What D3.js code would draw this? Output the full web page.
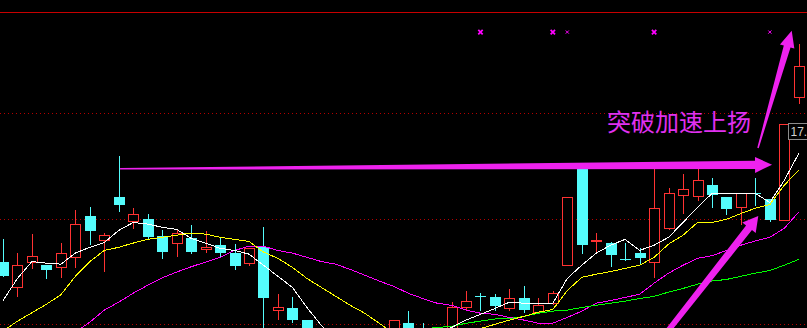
<!DOCTYPE html>
<html><head><meta charset="utf-8">
<script src="https://cdn.jsdelivr.net/npm/d3@7"></script>
<style>html,body{margin:0;padding:0;background:#000;overflow:hidden}</style>
</head><body>
<svg id="c" width="807" height="328"></svg>
<script>
// ---- data (price units) ----
const openP = [15.19,14.70,15.19,15.12,15.08,15.27,16.05,15.59,16.41,15.95,
  15.99,15.67,15.54,15.63,15.42,15.50,15.35,15.16,15.46,14.27,
  14.30,14.08,13.80,13.62,13.48,13.58,13.45,13.70,14.02,13.90,
  13.75,13.85,14.32,14.54,14.51,14.30,14.49,14.23,14.40,15.12,
  17.00,15.57,15.55,15.24,15.36,15.19,15.82,16.46,16.43,16.64,
  16.41,16.22,16.49,16.37,15.97,18.30];
const highP = [15.61,15.36,15.71,15.13,15.54,16.16,16.22,15.74,17.20,16.20,
  16.09,15.78,15.80,15.88,15.76,15.63,15.52,15.45,15.84,14.57,
  14.51,14.08,13.88,13.75,13.70,13.72,13.80,14.08,14.25,14.02,
  13.90,14.42,14.64,14.59,14.57,14.66,14.72,14.49,14.63,16.41,
  17.00,15.74,15.56,15.54,15.44,16.94,16.58,16.84,16.94,16.77,
  16.41,16.48,16.77,16.37,17.79,19.31];
const lowP = [14.91,14.51,15.04,14.87,14.87,15.06,15.52,14.99,16.14,15.80,
  15.63,15.25,15.27,15.36,15.36,15.29,15.04,15.10,13.85,14.08,
  14.05,13.70,13.55,13.40,13.35,13.30,13.38,13.60,13.65,13.60,
  13.60,13.80,14.25,14.28,14.27,14.25,14.23,14.19,14.36,15.12,
  15.35,15.35,15.10,15.21,15.14,14.87,15.78,16.09,16.33,16.22,
  16.09,15.88,16.26,15.95,15.97,18.17];
const closeP = [14.91,15.12,15.29,15.02,15.35,15.91,15.76,15.69,16.26,16.09,
  15.65,15.38,15.74,15.38,15.46,15.36,15.10,15.44,14.49,14.32,
  14.09,13.80,13.65,13.50,13.60,13.45,13.55,14.08,13.75,13.70,
  13.85,14.32,14.44,14.52,14.34,14.49,14.28,14.36,14.59,16.41,
  15.50,15.59,15.31,15.22,15.25,16.20,16.48,16.56,16.73,16.45,
  16.18,16.48,16.47,15.97,17.79,18.89];

const ma5 = [14.45,14.87,15.19,15.16,15.14,15.35,15.46,15.55,15.78,15.93,
  15.90,15.84,15.80,15.63,15.54,15.44,15.40,15.33,15.12,14.91,
  14.70,14.32,13.98,13.73,13.60,13.55,13.60,13.66,13.70,13.77,
  13.85,13.94,14.08,14.19,14.30,14.42,14.40,14.40,14.40,14.87,
  15.12,15.35,15.50,15.61,15.40,15.50,15.65,15.93,16.22,16.48,
  16.48,16.48,16.48,16.31,16.73,17.24];
const ma10 = [13.87,14.06,14.22,14.38,14.56,14.91,15.19,15.40,15.46,15.54,
  15.61,15.65,15.69,15.73,15.71,15.65,15.61,15.57,15.37,15.25,
  15.08,14.87,14.70,14.53,14.36,14.21,14.02,13.83,13.73,13.66,
  13.66,13.70,13.81,13.92,14.00,14.08,14.15,14.23,14.28,14.64,
  14.89,14.95,15.00,15.06,15.12,15.27,15.52,15.69,15.93,15.93,
  15.99,16.10,16.20,16.27,16.64,16.92];
const ma20 = [12.98,13.15,13.32,13.49,13.66,13.85,14.04,14.27,14.42,14.59,
  14.74,14.88,14.99,15.09,15.18,15.27,15.40,15.48,15.48,15.40,
  15.35,15.27,15.19,15.14,15.04,14.93,14.82,14.72,14.59,14.49,
  14.40,14.36,14.27,14.21,14.19,14.13,14.08,14.02,14.02,14.13,
  14.25,14.40,14.45,14.51,14.57,14.78,14.97,15.12,15.25,15.30,
  15.40,15.50,15.58,15.65,15.82,16.13];
const ma60 = [null,null,null,null,null,null,null,null,null,null,
  null,null,null,null,null,null,null,null,null,null,
  null,null,null,null,null,null,null,null,13.88,13.91,
  13.94,13.96,14.02,14.06,14.10,14.11,14.15,14.21,14.25,14.27,
  14.32,14.36,14.40,14.44,14.49,14.53,14.61,14.68,14.76,14.82,
  14.85,14.91,14.97,15.02,15.12,15.23];

const gridPrices = [14, 16, 18];
const signalIdx = [33, 38, 39, 45, 53];
const signalBold = [true, true, false, true, false];
const signalPrice = 19.54;
const noteText = "突破加速上扬";
const noteAt = [41.74, 17.66];
const tagText = "17.";
// arrows: [tailIndex, tailPrice, tipIndex, tipPrice]
const arrows = [
  [8.09, 16.948, 53.15, 17.024],
  [45.79, 13.818, 52.20, 16.053],
  [52.18, 17.342, 54.51, 19.566]
];
const arrowStyle = [
  {w0:1.5, w1:8.4, hl:17, hh:8},
  {w0:5.5, w1:7.5, hl:15, hh:8.5},
  {w0:1.5, w1:7, hl:16.5, hh:7.5}
];

// ---- drawing ----
const W = 807, H = 328;
const svg = d3.select("#c");
svg.append("rect").attr("width", W).attr("height", H).attr("fill", "#000");

const x = d3.scaleLinear().domain([0, 55]).range([3, 798.8]);
const y = d3.scaleLinear().domain([14, 18]).range([324.3, 113.3]);

const RED = "#ff3232", CYAN = "#54fcfc";

// frame top line
svg.append("line").attr("x1", 0).attr("x2", W).attr("y1", 12.5).attr("y2", 12.5)
  .attr("stroke", "#c80000").attr("stroke-width", 1);

// dotted grid
svg.append("g").selectAll("line").data(gridPrices).join("line")
  .attr("x1", 0).attr("x2", W)
  .attr("y1", d => Math.round(y(d)) + 0.5).attr("y2", d => Math.round(y(d)) + 0.5)
  .attr("stroke", "#b40000").attr("stroke-width", 1).attr("stroke-dasharray", "1,3");

// candles
const cg = svg.append("g").attr("shape-rendering", "crispEdges");
openP.forEach((o, i) => {
  const c = closeP[i], h = highP[i], l = lowP[i];
  const cx = Math.round(x(i));
  const yh = Math.round(y(h)), yl = Math.round(y(l));
  const yo = Math.round(y(o)), yc = Math.round(y(c));
  if (c >= o) {
    const top = yc, bot = yo;
    if (yh < top) cg.append("line").attr("x1", cx + 0.5).attr("x2", cx + 0.5)
      .attr("y1", yh).attr("y2", top).attr("stroke", RED);
    if (yl > bot) cg.append("line").attr("x1", cx + 0.5).attr("x2", cx + 0.5)
      .attr("y1", bot).attr("y2", yl).attr("stroke", RED);
    cg.append("rect").attr("x", cx - 4.5).attr("y", top + 0.5)
      .attr("width", 10).attr("height", Math.max(1, bot - top))
      .attr("fill", "#000").attr("stroke", RED).attr("stroke-width", 1);
  } else {
    cg.append("line").attr("x1", cx + 0.5).attr("x2", cx + 0.5)
      .attr("y1", yh).attr("y2", yl + 1).attr("stroke", CYAN);
    cg.append("rect").attr("x", cx - 5).attr("y", yo)
      .attr("width", 11).attr("height", Math.max(1, yc - yo)).attr("fill", CYAN);
  }
});

// moving averages
const maSets = [[ma20, "#ff00ff"], [ma60, "#00ff00"], [ma10, "#ffff00"], [ma5, "#ffffff"]];
const line = d3.line().defined(d => d[1] != null).x(d => x(d[0])).y(d => y(d[1]));
maSets.forEach(([arr, col]) => {
  svg.append("path").datum(arr.map((v, i) => [i, v]))
    .attr("d", line).attr("fill", "none").attr("stroke", col).attr("stroke-width", 1)
    .attr("shape-rendering", "crispEdges");
});

// signal markers
signalIdx.forEach((idx, k) => {
  const cx = x(idx), cy = y(signalPrice);
  const s = signalBold[k] ? 2.2 : 1.6;
  svg.append("path")
    .attr("d", `M${cx - s},${cy - s}L${cx + s},${cy + s}M${cx - s},${cy + s}L${cx + s},${cy - s}`)
    .attr("stroke", "#ff00ff").attr("stroke-width", signalBold[k] ? 1.8 : 1).attr("fill", "none");
});

// annotation text
svg.append("text").attr("x", x(noteAt[0])).attr("y", y(noteAt[1]))
  .attr("font-family", "'Noto Sans CJK SC', sans-serif").attr("font-size", 24)
  .attr("fill", "#e030f0").text(noteText);

// arrows
function arrowPts(t, p, st) {
  const ux0 = p[0] - t[0], uy0 = p[1] - t[1];
  const len = Math.hypot(ux0, uy0);
  const ux = ux0 / len, uy = uy0 / len, nx = -uy, ny = ux;
  const nk = [p[0] - ux * st.hl, p[1] - uy * st.hl];
  return [
    [t[0] + nx * st.w0 / 2, t[1] + ny * st.w0 / 2],
    [nk[0] + nx * st.w1 / 2, nk[1] + ny * st.w1 / 2],
    [nk[0] + nx * st.hh, nk[1] + ny * st.hh],
    p,
    [nk[0] - nx * st.hh, nk[1] - ny * st.hh],
    [nk[0] - nx * st.w1 / 2, nk[1] - ny * st.w1 / 2],
    [t[0] - nx * st.w0 / 2, t[1] - ny * st.w0 / 2]
  ];
}
arrows.forEach((a, k) => {
  const pts = arrowPts([x(a[0]), y(a[1])], [x(a[2]), y(a[3])], arrowStyle[k]);
  svg.append("path").attr("d", "M" + pts.map(q => q.join(",")).join("L") + "Z")
    .attr("fill", "#ee22ee");
});

// last price tag
const ty = Math.round(y(closeP[54]));
svg.append("rect").attr("x", 788.5).attr("y", ty - 0.5).attr("width", 30).attr("height", 16)
  .attr("fill", "#000").attr("stroke", "#8c8c8c").attr("stroke-width", 1)
  .attr("shape-rendering", "crispEdges");
svg.append("text").attr("x", 790.5).attr("y", ty + 12)
  .attr("font-family", "'Liberation Sans', sans-serif").attr("font-size", 12)
  .attr("fill", "#d0d0d0").text(tagText);
</script>
</body></html>
